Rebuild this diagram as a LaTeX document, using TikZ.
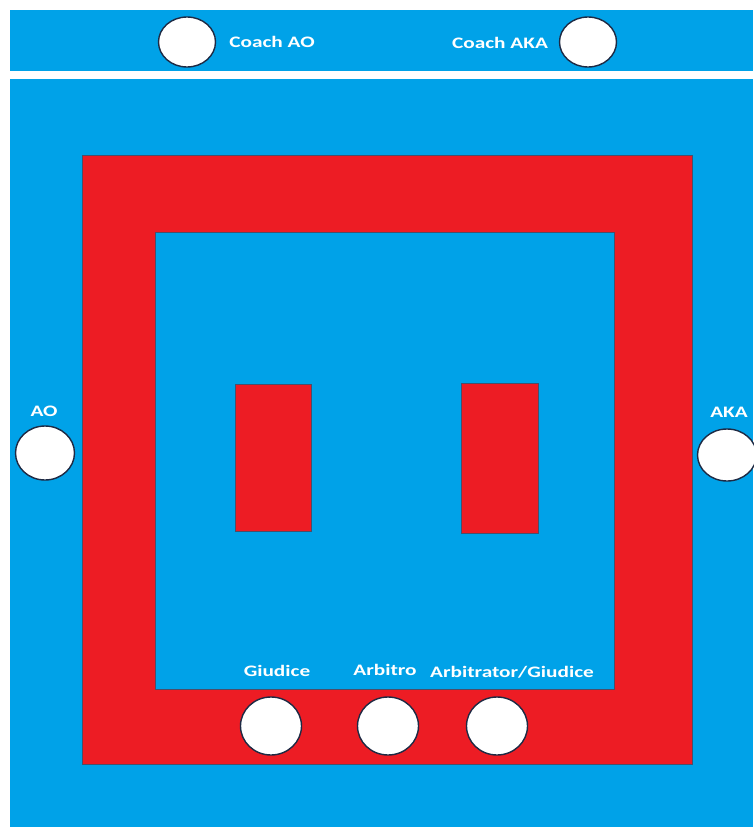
\documentclass[tikz,border=0pt]{standalone}
\usepackage{fontspec}
\setmainfont{Carlito}
\definecolor{matblue}{HTML}{00A2E8}
\definecolor{matred}{HTML}{ED1C24}
\definecolor{edge}{HTML}{4A4E6A}
\definecolor{ring}{HTML}{1E2A44}
\tikzset{
  seat/.style={draw=ring, line width=1.4pt, fill=white, ellipse, minimum width=58pt, minimum height=50pt, inner sep=0pt},
  lbl/.style={text=white, font=\fontsize{16}{18}\selectfont\bfseries, inner sep=0pt},
  redbox/.style={fill=matred, draw=edge, line width=0.8pt}
}
\usetikzlibrary{shapes.geometric}
\newcommand{\wide}[1]{\scalebox{1.33}[1]{#1}}
\begin{document}
\begin{tikzpicture}[x=1pt,y=-1pt]
\useasboundingbox (0,0) rectangle (753,827);
\fill[white] (0,0) rectangle (753,827);
% top bar
\fill[matblue] (10,10) rectangle (753,71);
% main area
\fill[matblue] (10,79) rectangle (753,827);
% red ring
\path[redbox] (82,155) rectangle (692,764);
\path[fill=matblue, draw=edge, line width=0.8pt] (155,232) rectangle (614,689);
% red rectangles
\node[redbox, minimum width=76pt, minimum height=147pt, inner sep=0pt] (lbox) at (273,457.5) {};
\node[redbox, minimum width=77pt, minimum height=150pt, inner sep=0pt] (rbox) at (499.5,458) {};
% seats
\node[seat, minimum width=57pt, minimum height=50pt] (coachao) at (187,42) {};
\node[seat, minimum width=57pt, minimum height=50pt] (coachaka) at (588,42) {};
\node[seat, minimum width=59pt, minimum height=54pt] (ao) at (45,453) {};
\node[seat, minimum width=59pt, minimum height=52pt] (aka) at (727,455) {};
\node[seat, minimum width=61pt, minimum height=58pt] (giudice) at (271,726) {};
\node[seat, minimum width=61pt, minimum height=58pt] (arbitro) at (388,726) {};
\node[seat, minimum width=61pt, minimum height=58pt] (arbgiu) at (497,726) {};
% labels
\node[lbl] (tcoachao) at (272,42) {\wide{Coach AO}};
\node[lbl] (tcoachaka) at (500,43) {\wide{Coach AKA}};
\node[lbl] (tao) at (44,411) {\wide{AO}};
\node[lbl] (taka) at (729,412) {\wide{AKA}};
\node[lbl] (tgiudice) at (277,671) {\wide{Giudice}};
\node[lbl] (tarbitro) at (385,670) {\wide{Arbitro}};
\node[lbl] (tarbgiu) at (512,672) {\wide{Arbitrator/Giudice}};
\end{tikzpicture}
\end{document}
